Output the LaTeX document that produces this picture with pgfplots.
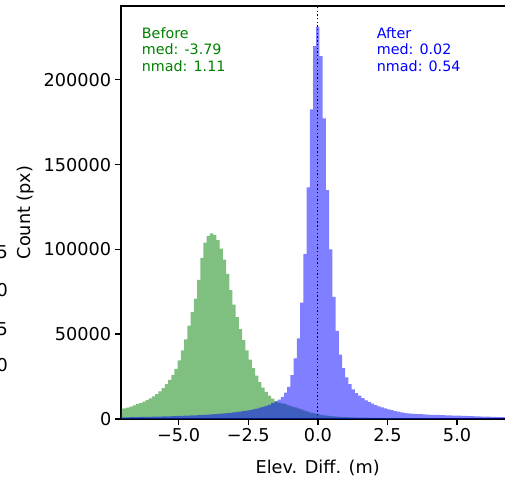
\documentclass[border=0pt]{standalone}
\usepackage{fontspec}
\setmainfont{DejaVu Sans}
\usepackage{pgfplots}
\pgfplotsset{compat=1.18}
\usepackage{pgfplotstable}
\definecolor{mplgreen}{RGB}{0,128,0}
\definecolor{mplblue}{RGB}{0,0,255}
\newcommand{\tickfont}{\fontsize{17.7}{21}\selectfont}
\newcommand{\annfont}{\fontsize{14.3}{17}\selectfont}
\pgfplotstableread{
k g b
-61 6000 1000
-60 6200 1000
-59 6700 1030
-58 7300 1060
-57 8000 1100
-56 8700 1140
-55 9400 1180
-54 10200 1220
-53 11100 1260
-52 12100 1300
-51 13300 1350
-50 14700 1400
-49 16300 1450
-48 18200 1500
-47 20500 1560
-46 23000 1620
-45 25800 1680
-44 29500 1740
-43 34500 1810
-42 40500 1880
-41 47000 1960
-40 55000 2040
-39 63000 2120
-38 71000 2200
-37 82000 2290
-36 95000 2390
-35 104000 2490
-34 108000 2600
-33 109500 2720
-32 108500 2850
-31 105500 2990
-30 100500 3150
-29 94000 3300
-28 85500 3480
-27 76000 3680
-26 67500 3900
-25 60000 4130
-24 53000 4380
-23 46500 4650
-22 40500 4950
-21 35000 5300
-20 30000 5700
-19 25500 6150
-18 21700 6650
-17 18500 7200
-16 16000 7800
-15 13800 8500
-14 12000 9300
-13 10500 10200
-12 9700 11400
-11 9200 13000
-10 8700 15500
-9 8000 19000
-8 7400 25900
-7 6800 35800
-6 6200 47600
-5 5600 68600
-4 4900 97300
-3 4300 136600
-2 3800 182600
-1 3300 219900
0 2900 231300
1 2500 214000
2 2200 177300
3 1950 135000
4 1750 100000
5 1550 72000
6 1400 52000
7 1250 38000
8 1150 30000
9 1050 24500
10 950 20500
11 900 17500
12 860 15300
13 820 13800
14 780 12300
15 740 11000
16 700 9900
17 670 9000
18 640 8200
19 610 7500
20 580 6900
21 550 6300
22 530 5700
23 510 5200
24 490 4700
25 470 4300
26 450 3900
27 430 3600
28 410 3350
29 390 3150
30 370 3000
31 360 2900
32 350 2800
33 340 2700
34 330 2600
35 320 2500
36 310 2450
37 300 2400
38 290 2300
39 280 2250
40 270 2200
41 260 2100
42 255 2050
43 250 2000
44 245 1950
45 240 1900
46 235 1800
47 230 1750
48 225 1650
49 220 1600
50 215 1500
51 210 1450
52 205 1400
53 200 1350
54 195 1300
55 190 1200
56 185 1150
57 180 1100
58 175 1050
59 170 1000
60 165 1000
61 160 1000
}\histdata
\begin{document}
\begin{tikzpicture}[x=1pt,y=1pt]
\useasboundingbox (0,0) rectangle (505,478);
\begin{axis}[
  at={(121pt,59pt)}, anchor=south west,
  scale only axis, width=393.7pt, height=413pt,
  xmin=-7.07, xmax=7.07, ymin=0, ymax=243500,
  axis line style={line width=1.4pt, black},
  tick align=outside, xtick pos=bottom, ytick pos=left,
  major tick length=6.2pt,
  every tick/.style={line width=1.4pt, black},
  xtick={-5,-2.5,0,2.5,5},
  xticklabels={−5.0,−2.5,0.0,2.5,5.0},
  ytick={0,50000,100000,150000,200000},
  yticklabels={0,50000,100000,150000,200000},
  scaled y ticks=false,
  tick label style={font=\tickfont},
  label style={font=\tickfont},
  xlabel={Elev. Diff. (m)},
  ylabel={Count (px)},
  xlabel style={at={(axis description cs:0.4996,-0.1308)}, anchor=base},
  ylabel style={at={(axis description cs:-0.2311,0.5)}, anchor=base},
]
\addplot[draw=none, fill=mplgreen, fill opacity=0.5, const plot mark mid]
  table[x expr=\thisrow{k}*0.115702, y=g]{\histdata} \closedcycle;
\addplot[draw=none, fill=mplblue, fill opacity=0.5, const plot mark mid]
  table[x expr=\thisrow{k}*0.115702, y=b]{\histdata} \closedcycle;
\addplot[black, line width=1.1pt, dash pattern=on 1.4pt off 2.3pt]
  coordinates {(0,0) (0,243500)};
\node[anchor=base west, text=mplgreen, font=\annfont, inner sep=0] at (rel axis cs:0.0526,0.9218) {Before};
\node[anchor=base west, text=mplgreen, font=\annfont, inner sep=0] at (rel axis cs:0.0526,0.8814) {med: -3.79};
\node[anchor=base west, text=mplgreen, font=\annfont, inner sep=0] at (rel axis cs:0.0526,0.8409) {nmad: 1.11};
\node[anchor=base west, text=mplblue, font=\annfont, inner sep=0] at (rel axis cs:0.6495,0.9218) {After};
\node[anchor=base west, text=mplblue, font=\annfont, inner sep=0] at (rel axis cs:0.6495,0.8814) {med: 0.02};
\node[anchor=base west, text=mplblue, font=\annfont, inner sep=0] at (rel axis cs:0.6495,0.8409) {nmad: 0.54};
\end{axis}
\node[anchor=east, inner sep=0, font=\tickfont] at (8,226.3) {5};
\node[anchor=east, inner sep=0, font=\tickfont] at (8,188) {0};
\node[anchor=east, inner sep=0, font=\tickfont] at (8,149) {5};
\node[anchor=east, inner sep=0, font=\tickfont] at (8,113) {0};
\end{tikzpicture}
\end{document}
